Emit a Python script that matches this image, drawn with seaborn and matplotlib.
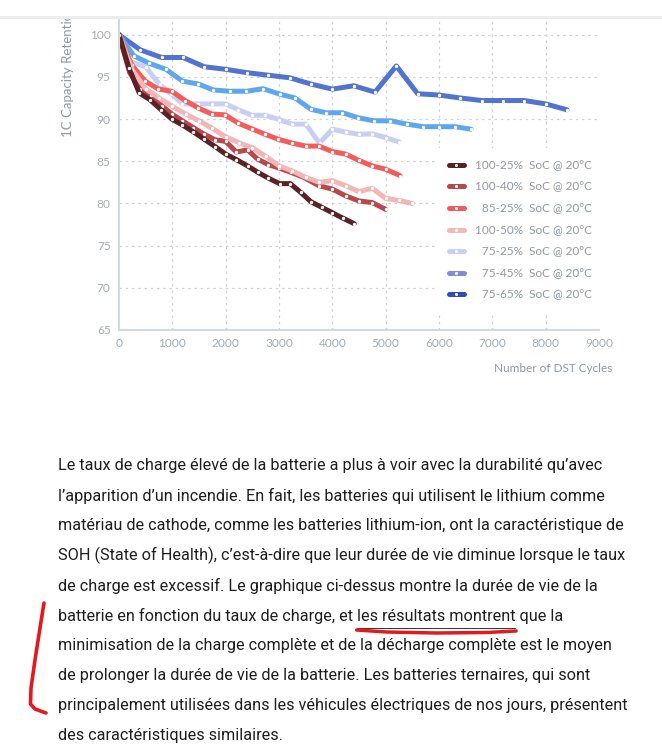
import matplotlib
matplotlib.use("Agg")
import matplotlib.pyplot as plt
from matplotlib.lines import Line2D
from matplotlib.patches import Rectangle
import pandas as pd
import seaborn as sns

# ---- data ----
soc_labels = ["100-25%", "100-40%", "85-25%", "100-50%", "75-25%", "75-45%", "75-65%"]

cyc_100_25 = [0, 190, 380, 580, 790, 990, 1190, 1390, 1600, 1800, 2000, 2200, 2410, 2600, 2800, 3010, 3210, 3410, 3600, 3800, 4000, 4200, 4410]
cap_100_25 = [100, 96.0, 93.1, 92.3, 91.1, 90.0, 89.3, 88.5, 87.6, 86.75, 85.85, 85.2, 84.45, 83.7, 83.0, 82.35, 82.35, 81.3, 80.2, 79.55, 78.9, 78.25, 77.6]

cyc_100_40 = [0, 200, 400, 600, 800, 990, 1190, 1390, 1600, 1800, 2000, 2200, 2410, 2600, 2800, 3000, 3220, 3460, 3750, 4000, 4250, 4500, 4750, 5000]
cap_100_40 = [100, 95.5, 93.6, 92.8, 91.6, 90.6, 89.8, 89.0, 88.2, 87.55, 87.35, 86.1, 86.35, 85.25, 84.6, 84.2, 83.7, 83.1, 82.1, 81.7, 80.9, 80.3, 80.1, 79.3]

cyc_85_25 = [0, 240, 490, 740, 990, 1240, 1490, 1740, 1990, 2240, 2490, 2740, 2990, 3250, 3500, 3750, 4000, 4250, 4500, 4750, 5000, 5270]
cap_85_25 = [100, 96.4, 94.5, 93.55, 93.3, 92.2, 91.3, 90.6, 90.5, 89.5, 88.85, 88.2, 87.6, 87.15, 86.8, 86.8, 86.15, 85.85, 85.1, 84.45, 84.05, 83.3]

cyc_100_50 = [0, 250, 500, 750, 1000, 1250, 1500, 1750, 2000, 2250, 2500, 2750, 3000, 3250, 3500, 3750, 4000, 4250, 4500, 4750, 5000, 5250, 5500]
cap_100_50 = [100, 95.8, 93.6, 92.5, 91.5, 90.6, 89.8, 88.9, 87.9, 87.2, 86.6, 85.6, 84.45, 83.85, 83.1, 82.5, 82.7, 82.1, 81.4, 81.8, 80.6, 80.35, 80.0]

cyc_75_25 = [0, 210, 500, 760, 980, 1190, 1490, 1740, 2000, 2240, 2490, 2740, 3000, 3250, 3500, 3760, 4000, 4250, 4500, 4750, 5000, 5250]
cap_75_25 = [100, 96.8, 96.2, 94.1, 93.0, 91.8, 91.8, 91.8, 91.8, 91.1, 90.45, 90.45, 89.95, 89.4, 89.4, 87.15, 88.8, 88.45, 88.2, 88.25, 87.8, 87.3]

cyc_75_45 = [0, 280, 570, 880, 1190, 1490, 1770, 2080, 2390, 2700, 3020, 3300, 3600, 3890, 4190, 4490, 4780, 5090, 5400, 5700, 6000, 6300, 6600]
cap_75_45 = [100, 97.5, 96.6, 95.9, 94.5, 94.15, 93.45, 93.3, 93.3, 93.6, 92.95, 92.5, 91.15, 90.75, 90.75, 90.15, 89.8, 89.8, 89.4, 89.1, 89.1, 89.1, 88.8]

cyc_75_65 = [0, 400, 800, 1200, 1600, 2000, 2400, 2800, 3200, 3600, 4000, 4400, 4800, 5200, 5600, 6000, 6400, 6800, 7200, 7600, 8000, 8400]
cap_75_65 = [100, 98.2, 97.3, 97.3, 96.2, 95.9, 95.5, 95.2, 94.9, 94.15, 93.55, 93.95, 93.2, 96.3, 93.0, 92.85, 92.5, 92.2, 92.2, 92.2, 91.8, 91.1]

x_ticks = [0, 1000, 2000, 3000, 4000, 5000, 6000, 7000, 8000, 9000]
y_ticks = [65, 70, 75, 80, 85, 90, 95, 100]

body_lines = [
    "Le taux de charge élevé de la batterie a plus à voir avec la durabilité qu’avec",
    "l’apparition d’un incendie. En fait, les batteries qui utilisent le lithium comme",
    "matériau de cathode, comme les batteries lithium-ion, ont la caractéristique de",
    "SOH (State of Health), c’est-à-dire que leur durée de vie diminue lorsque le taux",
    "de charge est excessif. Le graphique ci-dessus montre la durée de vie de la",
    "batterie en fonction du taux de charge, et les résultats montrent que la",
    "minimisation de la charge complète et de la décharge complète est le moyen",
    "de prolonger la durée de vie de la batterie. Les batteries ternaires, qui sont",
    "principalement utilisées dans les véhicules électriques de nos jours, présentent",
    "des caractéristiques similaires.",
]
link_before = "batterie en fonction du taux de charge, et "
link_text = "les résultats montrent"

# ---- styles ----
line_colors = {"100-25%": "#5c2125", "100-40%": "#b9474b", "85-25%": "#f45c5c",
               "100-50%": "#f3b5b5", "75-25%": "#c7cff5", "75-45%": "#5ea7ef",
               "75-65%": "#5273cf"}
legend_colors = ["#5a1f22", "#b9474a", "#f45a5a", "#f4b8b8", "#c8d0f4", "#7b8ed9", "#2f4cbe"]
draw_order = ["75-65%", "75-45%", "75-25%", "85-25%", "100-40%", "100-50%", "100-25%"]
body_font = dict(fontsize=11.7, color="#1e1e1e", family=["Roboto", "DejaVu Sans"])

series = [(cyc_100_25, cap_100_25), (cyc_100_40, cap_100_40), (cyc_85_25, cap_85_25),
          (cyc_100_50, cap_100_50), (cyc_75_25, cap_75_25), (cyc_75_45, cap_75_45),
          (cyc_75_65, cap_75_65)]
df = pd.concat([pd.DataFrame({"cycles": c, "capacity": v, "soc": lab})
                for lab, (c, v) in zip(soc_labels, series)], ignore_index=True)

W, H = 662, 750
def fx(px):
    return px / W
def fy(py):
    return 1 - py / H

sns.set_style("white")
plt.rcParams['font.family'] = ['Lato', 'DejaVu Sans']

fig = plt.figure(figsize=(6.62, 7.5), dpi=100)
ax = fig.add_axes([fx(119), fy(330), 480 / W, 313 / H])

sns.lineplot(data=df, x="cycles", y="capacity", hue="soc", hue_order=draw_order,
             palette=line_colors, estimator=None, sort=False, legend=False,
             linewidth=3.6, marker="o", markersize=2.4, markerfacecolor="white",
             markeredgewidth=0, solid_joinstyle="round", solid_capstyle="round", ax=ax)

ax.set_xlim(0, 9000)
ax.set_ylim(65, 102.1)
ax.set_xticks(x_ticks)
ax.set_yticks(y_ticks)
ax.set_xlabel("")
ax.set_ylabel("")
ax.grid(True, color="#d2d2d2", linestyle=(0, (2, 3)), linewidth=0.9)
ax.set_axisbelow(True)
ax.xaxis.get_gridlines()[-1].set_visible(False)
ax.xaxis.get_gridlines()[0].set_visible(False)
ax.yaxis.get_gridlines()[0].set_visible(False)
sns.despine(ax=ax)
for s in ["left", "bottom"]:
    ax.spines[s].set_color("#d3d9e1")
    ax.spines[s].set_linewidth(1.5)
ax.tick_params(length=0, labelsize=8.6, labelcolor="#a3adb8", pad=6)

# legend
handles = [Line2D([0], [0], color=c, lw=3.6, marker="o", markersize=2.2,
                  markerfacecolor="white", markeredgewidth=0, solid_capstyle="round")
           for c in legend_colors]
leg_labels = []
for lab in soc_labels:
    pad = "\u2007" if len(lab) < 7 else ""
    leg_labels.append(pad + lab + "  SoC @ 20°C")
leg = ax.legend(handles, leg_labels, loc="upper left",
                bbox_to_anchor=(fx(437), fy(148)), bbox_transform=fig.transFigure,
                frameon=True, facecolor="white", edgecolor="none", framealpha=1,
                fontsize=8.5, labelcolor="#8f9aa6", handlelength=1.3,
                handletextpad=0.9, labelspacing=0.9, borderpad=1.0, borderaxespad=0)

fig.text(fx(68), fy(137), "1C Capacity Retention (%)", rotation=90, ha="center",
         va="bottom", fontsize=9.5, color="#909ba8")
fig.text(fx(612), fy(369), "Number of DST Cycles", ha="right", va="center",
         fontsize=8.5, color="#8f9aa6")

# page top (clips the y label)
fig.add_artist(Rectangle((0, fy(16)), 1, 16 / H, transform=fig.transFigure,
                         facecolor="white", edgecolor="none", zorder=10))
fig.add_artist(Rectangle((0, fy(19)), 1, 3 / H, transform=fig.transFigure,
                         facecolor="#ececec", edgecolor="none", zorder=10))

# paragraph
for i, line in enumerate(body_lines):
    fig.text(fx(58), fy(466 + i * 29.9), line, ha="left", va="center", **body_font)

# find where the link sits in its line, so the underline follows the text
renderer = fig.canvas.get_renderer()
def text_width(s):
    t = fig.text(0, 0, s, **body_font)
    w = t.get_window_extent(renderer).width
    t.remove()
    return w
u0 = 58 + text_width(link_before.rstrip()) + text_width(" ") * 0.9
u1 = u0 + text_width(link_text)
fig.add_artist(Line2D([fx(u0), fx(u1)], [fy(628), fy(628)], transform=fig.transFigure,
                      color="#333333", lw=0.7))
fig.add_artist(Line2D([fx(u0), fx(u0 + 30), fx(u0 + 80), fx(u0 + 130), fx(u1 + 1)],
                      [fy(630), fy(632), fy(633), fy(632.5), fy(631)],
                      transform=fig.transFigure, color="#e3191f", lw=2.5,
                      solid_capstyle="round"))
fig.add_artist(Line2D([fx(44), fx(40), fx(35), fx(31), fx(30.5), fx(35), fx(46)],
                      [fy(603), fy(628), fy(660), fy(688), fy(704), fy(709), fy(713)],
                      transform=fig.transFigure, color="#e3191f", lw=2.6,
                      solid_capstyle="round", solid_joinstyle="round"))

fig.savefig("out.png", dpi=100)
